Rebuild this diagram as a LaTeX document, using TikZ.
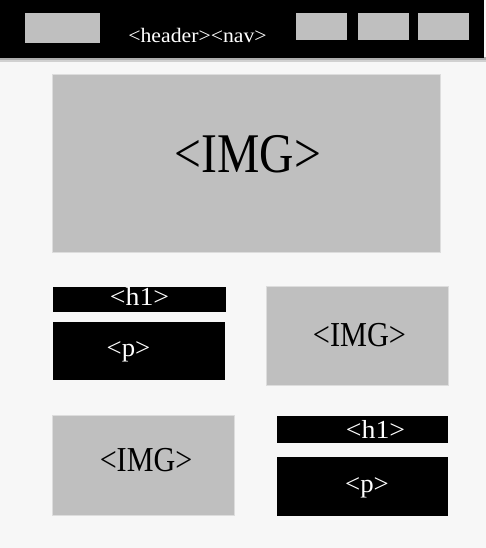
\documentclass[tikz,border=0pt]{standalone}
\usepackage{fontspec}
\usepackage{graphicx}
\setmainfont{Liberation Serif}
\definecolor{bgc}{HTML}{F7F7F7}
\definecolor{boxc}{HTML}{BFBFBF}
\begin{document}
\begin{tikzpicture}[x=1pt,y=-1pt,
  graybox/.style={fill=boxc},
  halo/.style={fill=boxc,opacity=0.45},
  blackbox/.style={fill=black},
  lbl/.style={inner sep=0pt,anchor=base},
  wlbl/.style={lbl,text=white}]
\useasboundingbox (0,0) rectangle (486,548);
\fill[bgc] (0,0) rectangle (486,548);
% header shadow and bar
\fill[black!45,opacity=0.35] (0,57) rectangle (486,62);
\fill[black!45,opacity=0.5] (0,57) rectangle (486,60);
\fill[black] (0,0) rectangle (484,58);
\path[graybox] (25,13) rectangle (100,43);
\path[graybox] (296,13) rectangle (347,40);
\path[graybox] (358,13) rectangle (409,40);
\path[graybox] (418,13) rectangle (469,40);
\node[wlbl,font=\fontsize{20.5}{24}\selectfont] (hdr) at (197.5,43) {\scalebox{1.06}[1]{<header><nav>}};
% big image
\path[halo] (52,74) rectangle (441,253);
\path[graybox] (53,75) rectangle (440,252);
\node[lbl,font=\fontsize{56}{60}\selectfont] (bigimg) at (248,172) {\scalebox{0.85}[1]{<IMG>}};
% left column
\path[blackbox] (53,287) rectangle (226,312);
\node[wlbl,font=\fontsize{26}{30}\selectfont] (h1a) at (139.5,305) {\scalebox{1.07}[1]{<h1>}};
\path[blackbox] (53,322) rectangle (225,380);
\node[wlbl,font=\fontsize{26}{30}\selectfont] (pa) at (128.5,356) {\scalebox{1.03}[1]{<p>}};
% right image
\path[halo] (266,286) rectangle (449,386);
\path[graybox] (267,287) rectangle (448,385);
\node[lbl,font=\fontsize{35}{40}\selectfont] (imgr) at (359.5,346) {\scalebox{0.865}[1]{<IMG>}};
% left bottom image
\path[halo] (52,415) rectangle (235,516);
\path[graybox] (53,416) rectangle (234,515);
\node[lbl,font=\fontsize{35}{40}\selectfont] (imgl) at (146,471) {\scalebox{0.86}[1]{<IMG>}};
% right column
\path[blackbox] (277,416) rectangle (448,443);
\node[wlbl,font=\fontsize{26}{30}\selectfont] (h1b) at (375.5,438) {\scalebox{1.07}[1]{<h1>}};
\path[blackbox] (277,457) rectangle (448,516);
\node[wlbl,font=\fontsize{26}{30}\selectfont] (pb) at (367,492) {\scalebox{1.03}[1]{<p>}};
\end{tikzpicture}
\end{document}
